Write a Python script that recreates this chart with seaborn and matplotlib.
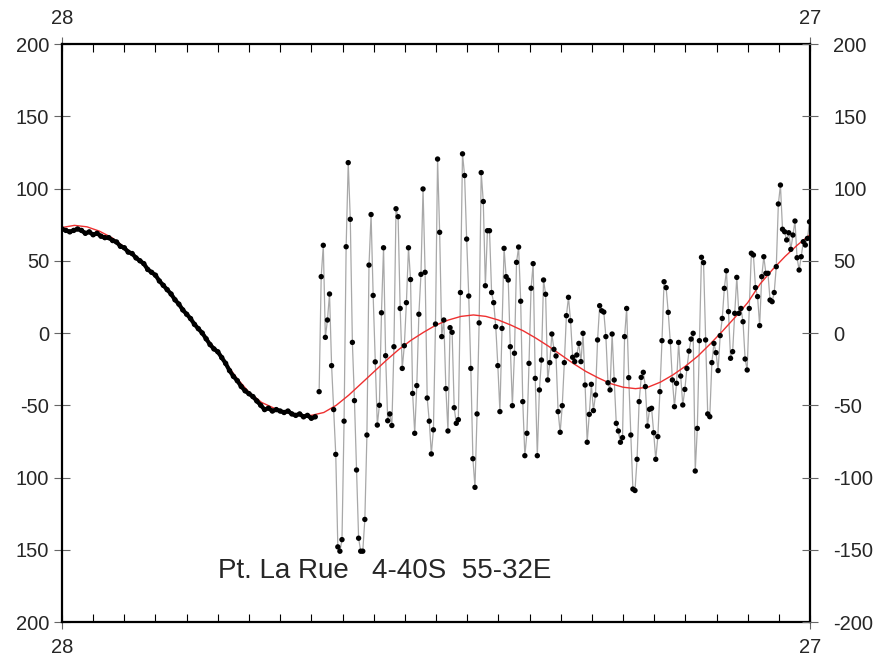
import matplotlib
matplotlib.use('Agg')
import matplotlib.pyplot as plt
import numpy as np
import pandas as pd
import seaborn as sns

# --- data (hours since start of record, sea level residual) ---
# densely sampled section, every 7.5 min
dense_start = 0.0
dense_step = 0.125
dense_vals = [72, 71, 70, 71, 72, 71, 69, 70, 68, 69, 67, 66, 66, 64, 63, 60,
              59, 56, 55, 52, 50, 48, 44, 42, 40, 36, 33, 30, 27, 23, 20, 16,
              13, 10, 6, 3, 0, -4, -8, -11, -13, -17, -21, -26, -30, -33, -37, -40,
              -42, -44, -47, -50, -53, -52, -54, -53, -54, -55, -54, -56, -57, -56,
              -58, -57, -59, -58]

# noisy section, every 4 min
osc_start = 8.25
osc_step = 1 / 15
osc_vals = [
    -40.6, 39, 60.7, -3, 9, 27, -22.6, -53, -84, -148, -151, -143, -61, 59.7,
    117.9, 78.7, -6.5, -46.8, -94.8, -142, -151, -151, -129, -70.6, 47, 82, 26,
    -20, -63.7, -50, 14, 59, -15.7, -60.7, -56, -64, -9.5, 86, 80.5,
    17, -24.5, -8.8, 21, 59, 37, -41.8, -69.4, -36.4, 13, 40.6, 99.7, 42, -45,
    -61, -83.7, -67, 6.2, 120.4, 69.7, -2.5, 9, -38.5, -67.8, 3.7, 0.5, -51.7,
    -62.5, -60, 28, 124, 109, 65, 25.6, -24.5, -87, -106.8, -56, 7, 111, 91,
    32.7, 70.8, 70.8, 28, 21, 4.4, -22.6, -54.4, 3.2, 58.6, 39, 36.7, -9.5,
    -50.3, -14, 48.9, 59.5, 22, -47.5, -84.9, -69.4, -21, 31, 48, -31.4, -84.9,
    -39.4, -18.7, 36.7, 26.8, -32.5, -20.5, -0.7, -11.3, -15.9, -54.4, -68.7,
    -50.3, -20.5, 12, 24.7,
    8.5, -16.8, -19.8, -15.2, -7.2, -19.8, -0.2, -36, -75.6, -56.3, -35.5,
    -53.7, -42.9, -4.8, 18.9, 15.4, 14.5, -2.5, -34.4, -39.4, -0.7, -32.5,
    -62.5, -67.8, -75.6, -72.4, -2.5, 17, -30.9, -70.6, -108, -109, -87.4,
    -47.5, -30.7, -27.2, -37.1, -64.4, -52.8, -52.1, -69,
    -87.4, -71.7, -40.6, -5.3, 35.5, 31.4, 14.3, -6, -32.5, -51, -34.8, -6.5,
    -29.8, -49.8, -39, -24.5, -12.5, -4.2, -0.2, -95.5, -66, -5.3, 52.4, 48.7,
    -4.8, -56, -57.9, -20.5, -7.2, -13.6, -26, -1.8, 10.1, 30.9, 43.1, 14.8,
    -17.5, -12.9, 13.6, 38.5, 13.6,
    17, 7.8, -18, -25.6, 17, 55.2, 54, 31.4, 25.2, 5.1, 39, 52.8, 41.3, 41.3,
    22.8, 21.7, 28, 45.9, 89.3, 102.4, 71.8, 70.1, 64.4, 69.4, 57.9, 67.8,
    77.5, 52.1, 43.6, 52.8, 63.2, 60.9, 65.5, 77]

# smooth (tidal) fit
fit_hours = [0.0, 0.4, 0.8, 1.2, 1.6, 2.0, 2.4, 2.8, 3.2, 3.6, 4.0, 4.4, 4.8,
             5.2, 5.6, 6.0, 6.4, 6.8, 7.2, 7.6, 8.0, 8.4, 8.8, 9.2, 9.6, 10.0,
             10.4, 10.8, 11.2, 11.6, 12.0, 12.4, 12.8, 13.2, 13.6, 14.0, 14.4,
             14.8, 15.2, 15.6, 16.0, 16.4, 16.8, 17.2, 17.6, 18.0, 18.4, 18.8,
             19.2, 19.6, 20.0, 20.4, 20.8, 21.2, 21.6, 22.0, 22.4, 22.8, 23.2,
             23.6, 24.0]
fit_vals = [73, 74.5, 73.5, 70.5, 66, 59.5, 52, 44, 35, 24, 13, 3, -8, -19,
            -31, -41, -48, -52, -55, -56.5, -57, -55, -50, -43, -35, -27, -19,
            -11.5, -5, 0.5, 5.5, 9, 11.5, 12.5, 11.5, 9, 5.5, 1.5, -3.5, -9,
            -15, -21, -26.5, -31, -35, -37.5, -38.5, -37.5, -34, -29, -23, -16,
            -7.5, 1.5, 11, 21, 34, 44, 53, 61, 68]

y_ticks = [200, 150, 100, 50, 0, -50, -100, -150, -200]
y_left_labels = ['200', '150', '100', '50', '0', '-50', '100', '150', '200']
y_right_labels = ['200', '150', '100', '50', '0', '-50', '-100', '-150', '-200']
x_end_labels = ['28', '27']
title = 'Pt. La Rue   4-40S  55-32E'

dense = pd.DataFrame({'hour': dense_start + dense_step * np.arange(len(dense_vals)),
                      'value': dense_vals})
osc = pd.DataFrame({'hour': osc_start + osc_step * np.arange(len(osc_vals)),
                    'value': osc_vals})
df = pd.concat([dense, osc], ignore_index=True)
fit = pd.DataFrame({'hour': fit_hours, 'value': fit_vals})

sns.set_style('white')
plt.rcParams['font.family'] = ['Liberation Sans', 'DejaVu Sans']

fig = plt.figure(figsize=(8.78, 6.58), dpi=100)
ax = fig.add_axes([0.0706, 0.0547, 0.852, 0.8784])

sns.lineplot(data=osc, x='hour', y='value', ax=ax, color='#a8a8a8', lw=0.9,
             estimator=None, sort=False, zorder=1)
sns.lineplot(data=fit, x='hour', y='value', ax=ax, color='#ee3030', lw=1.0,
             estimator=None, sort=False, zorder=2)
# dense part: points overlap into a thick jagged line
sns.lineplot(data=dense, x='hour', y='value', ax=ax, color='black', lw=3.0,
             estimator=None, sort=False, zorder=3)
sns.scatterplot(data=df, x='hour', y='value', ax=ax, color='black', s=15,
                edgecolor='none', linewidth=0, zorder=3)

ax.set_xlim(0, 24)
ax.set_ylim(-200, 200)
ax.set_xlabel('')
ax.set_ylabel('')

for sp in ax.spines.values():
    sp.set_visible(True)
    sp.set_color('black')
    sp.set_linewidth(1.6)
    sp.set_zorder(5)

# x: labels only at ends, hourly minor ticks inside
ax.set_xticks([0, 24])
ax.set_xticklabels(x_end_labels)
ax.set_xticks(np.arange(1, 24), minor=True)
ax.tick_params(axis='x', which='major', direction='inout', length=10, width=0.8,
               color='#666666', top=True, bottom=True, labeltop=True,
               labelbottom=True, labelsize=14.5, pad=6.5)
ax.tick_params(axis='x', which='minor', direction='in', length=6, width=0.8,
               color='black', top=True, bottom=True)

# y left
ax.set_yticks(y_ticks)
ax.set_yticklabels(y_left_labels)
ax.tick_params(axis='y', which='major', direction='inout', length=11.5,
               width=0.8, color='#666666', left=True, right=False,
               labelsize=14.5, pad=3.6)

# y right
ax2 = ax.twinx()
ax2.set_ylim(-200, 200)
ax2.set_yticks(y_ticks)
ax2.set_yticklabels(y_right_labels)
ax2.tick_params(axis='y', which='major', direction='inout', length=11.5,
                width=0.8, color='#666666', right=True, left=False,
                labelsize=14.5, pad=10.8)
for sp in ax2.spines.values():
    sp.set_visible(False)

ax.text(5.0, -165, title, fontsize=20, ha='left', va='center')

fig.savefig('out.png', dpi=100)
